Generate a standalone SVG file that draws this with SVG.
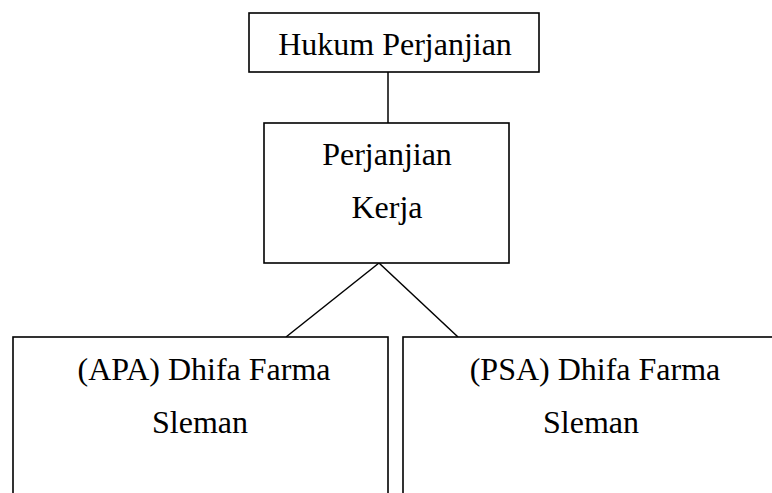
<svg xmlns="http://www.w3.org/2000/svg" width="772" height="493" viewBox="0 0 772 493">
<style>
.box{fill:#fff;stroke:#000;stroke-width:1.6}
.t{font-family:"Liberation Serif","Times New Roman",serif;font-size:32px;fill:#000;text-anchor:middle}
.c{stroke:#000;stroke-width:1.5;fill:none}
</style>
<rect width="772" height="493" fill="#fff"/>
<g id="connectors">
<line class="c" x1="388" y1="72" x2="388" y2="123"/>
<line class="c" x1="379" y1="263" x2="286" y2="337"/>
<line class="c" x1="379" y1="263" x2="458" y2="337"/>
</g>
<g id="hukum">
<rect class="box" x="249" y="13" width="290" height="59"/>
<text class="t" x="395" y="55">Hukum Perjanjian</text>
</g>
<g id="perjanjian-kerja">
<rect class="box" x="264" y="123" width="245" height="140"/>
<text class="t" x="387" y="165">Perjanjian</text>
<text class="t" x="387" y="218">Kerja</text>
</g>
<g id="apa">
<rect class="box" x="13" y="337" width="375" height="170"/>
<text class="t" x="204" y="380">(APA) Dhifa Farma</text>
<text class="t" x="200" y="433">Sleman</text>
</g>
<g id="psa">
<rect class="box" x="403" y="337" width="390" height="170"/>
<text class="t" x="595" y="380">(PSA) Dhifa Farma</text>
<text class="t" x="591" y="433">Sleman</text>
</g>
</svg>
